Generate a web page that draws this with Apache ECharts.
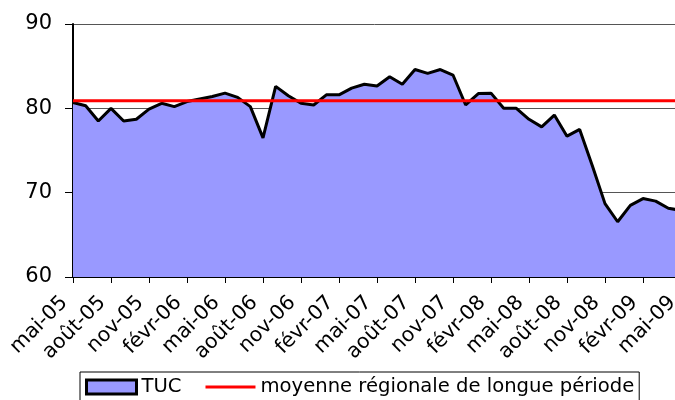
<!DOCTYPE html>
<html>
<head>
<meta charset="utf-8">
<script src="https://cdn.jsdelivr.net/npm/echarts@6/dist/echarts.min.js"></script>
<style>
  html, body { margin: 0; padding: 0; background: #fff; }
  #chart { width: 675px; height: 400px; }
</style>
</head>
<body>
<div id="chart"></div>
<script>
// mois (mai-05 .. mai-09), une étiquette tous les 3 mois
const mois = [
  'mai-05', 'juin-05', 'juil-05', 'août-05', 'sept-05', 'oct-05', 'nov-05', 'déc-05',
  'janv-06', 'févr-06', 'mars-06', 'avr-06', 'mai-06', 'juin-06', 'juil-06', 'août-06',
  'sept-06', 'oct-06', 'nov-06', 'déc-06', 'janv-07', 'févr-07', 'mars-07', 'avr-07',
  'mai-07', 'juin-07', 'juil-07', 'août-07', 'sept-07', 'oct-07', 'nov-07', 'déc-07',
  'janv-08', 'févr-08', 'mars-08', 'avr-08', 'mai-08', 'juin-08', 'juil-08', 'août-08',
  'sept-08', 'oct-08', 'nov-08', 'déc-08', 'janv-09', 'févr-09', 'mars-09', 'avr-09',
  'mai-09'
];

// taux d'utilisation des capacités
const tuc = [
  80.7, 80.3, 78.5, 80.0, 78.5, 78.7, 79.9, 80.6,
  80.2, 80.8, 81.1, 81.4, 81.8, 81.3, 80.2, 76.5,
  82.6, 81.5, 80.6, 80.4, 81.6, 81.6, 82.4, 82.85,
  82.65, 83.75, 82.85, 84.6, 84.15, 84.6, 83.95, 80.4,
  81.75, 81.8, 80.0, 80.0, 78.7, 77.8, 79.2, 76.7,
  77.5, 73.2, 68.7, 66.55, 68.5, 69.3, 69.0, 68.15,
  67.9
];

// moyenne régionale de longue période
const moyenneLongue = 80.9;
const moyenneSerie = mois.map(() => moyenneLongue);

const yTicks = { min: 60, max: 90, interval: 10 };

const FONT = 'DejaVu Sans, Liberation Sans, sans-serif';

const chart = echarts.init(document.getElementById('chart'), null, { renderer: 'canvas' });

const option = {
  animation: false,
  backgroundColor: '#fff',
  // la zone de tracé déborde un peu à droite (image rognée)
  grid: { left: 73, top: 24, width: 608, height: 253, containLabel: false, outerBoundsMode: 'none' },
  xAxis: {
    type: 'category',
    data: mois,
    boundaryGap: false,
    axisLine: { show: true, lineStyle: { color: '#000', width: 2 } },
    axisTick: { show: true, interval: 2, length: 6, lineStyle: { color: '#000', width: 1 } },
    axisLabel: {
      interval: 2,
      rotate: 45,
      margin: 14,
      padding: [0, 12, 0, 0],
      color: '#000',
      fontFamily: FONT,
      fontSize: 20.5
    },
    splitLine: { show: false }
  },
  yAxis: {
    type: 'value',
    min: yTicks.min,
    max: yTicks.max,
    interval: yTicks.interval,
    axisLine: { show: true, lineStyle: { color: '#000', width: 2 } },
    axisTick: { show: true, length: 8, lineStyle: { color: '#000', width: 1 } },
    axisLabel: {
      margin: 21,
      color: '#000',
      fontFamily: FONT,
      fontSize: 21
    },
    splitLine: { show: true, lineStyle: { color: '#555', width: 1 } }
  },
  legend: {
    left: 80,
    top: 372,
    orient: 'horizontal',
    padding: [5, 5, 5, 5],
    itemGap: 24,
    itemWidth: 50,
    itemHeight: 14,
    borderColor: '#000',
    borderWidth: 1,
    textStyle: { color: '#000', fontFamily: FONT, fontSize: 19.6 },
    data: [
      { name: 'TUC', icon: 'rect', itemStyle: { color: '#9999FF', borderColor: '#000', borderWidth: 3 } },
      { name: 'moyenne régionale de longue période', icon: 'path://M0,0 H50 V3 H0 Z', itemStyle: { color: '#FF0000' } }
    ]
  },
  series: [
    {
      name: 'TUC',
      type: 'line',
      data: tuc,
      showSymbol: false,
      symbol: 'none',
      lineStyle: { color: '#000', width: 3 },
      itemStyle: { color: '#9999FF' },
      areaStyle: { color: '#9999FF', opacity: 1, origin: 'start' },
      z: 2
    },
    {
      name: 'moyenne régionale de longue période',
      type: 'line',
      data: moyenneSerie,
      showSymbol: false,
      symbol: 'none',
      lineStyle: { color: '#FF0000', width: 3 },
      itemStyle: { color: '#FF0000' },
      z: 3
    }
  ]
};

chart.setOption(option);
</script>
</body>
</html>
